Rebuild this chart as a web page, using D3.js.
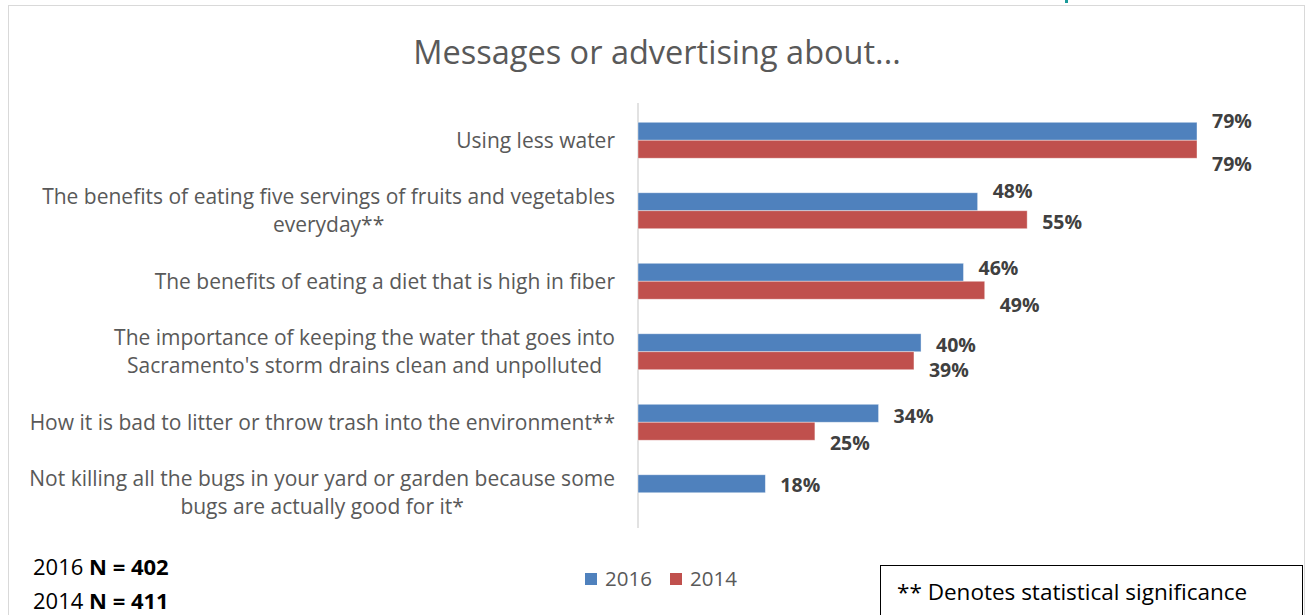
<!DOCTYPE html>
<html>
<head>
<meta charset="utf-8">
<script src="https://cdn.jsdelivr.net/npm/d3@7"></script>
<style>
  html, body { margin: 0; padding: 0; background: #fff; }
  text { font-family: "Open Sans", "Noto Sans", sans-serif; }
</style>
</head>
<body>
<div id="chart"></div>
<script>
// chart data
const categories = [
  ["Using less water"],
  ["The benefits of eating five servings of fruits and vegetables", "everyday**"],
  ["The benefits of eating a diet that is high in fiber"],
  ["The importance of keeping the water that goes into", "Sacramento's storm drains clean and unpolluted"],
  ["How it is bad to litter or throw trash into the environment**"],
  ["Not killing all the bugs in your yard or garden because some", "bugs are actually good for it*"]
];
const years = ["2016", "2014"];
const values2016 = [79, 48, 46, 40, 34, 18];
const values2014 = [79, 55, 49, 39, 25, null];
const sampleSizes = [["2016", "402"], ["2014", "411"]];
const colors = ["#4F81BD", "#C0504D"];

// manual label nudges (the original has hand-moved labels)
const labelShift2016 = [-10, -11, -4, 2, 3, 1];
const labelShift2014 = [15, 2, 15, 9, 12, 0];

const W = 1306, H = 615;
const dyText = 2; // middle baseline sits a bit high in this font

const svg = d3.select("#chart").append("svg")
    .attr("width", W)
    .attr("height", H);

// chart frame
svg.append("rect")
    .attr("x", 8.5).attr("y", 5.5)
    .attr("width", 1296).attr("height", 640)
    .attr("fill", "#fff")
    .attr("stroke", "#d9d9d9");

// little teal fragment at top
svg.append("rect")
    .attr("x", 1065).attr("y", 0).attr("width", 3).attr("height", 3)
    .attr("fill", "#1a9a9a");

svg.append("text")
    .attr("x", 657).attr("y", 53 + dyText)
    .attr("text-anchor", "middle")
    .attr("dominant-baseline", "middle")
    .attr("font-size", 32.5)
    .attr("fill", "#595959")
    .text("Messages or advertising about...");

const x = d3.scaleLinear()
    .domain([0, 79])
    .range([638, 1197]);

const y = d3.scaleBand()
    .domain(d3.range(categories.length))
    .range([105, 528])
    .paddingInner(0.49)
    .paddingOuter(0.245);

const ySub = d3.scaleBand()
    .domain(years)
    .range([0, y.bandwidth()]);

const rows = categories.map((c, i) => ({
  i: i,
  lines: c,
  vals: [
    {year: "2016", v: values2016[i], shift: labelShift2016[i]},
    {year: "2014", v: values2014[i], shift: labelShift2014[i]}
  ]
}));

// axis line
svg.append("line")
    .attr("x1", x(0)).attr("x2", x(0))
    .attr("y1", 103).attr("y2", 528)
    .attr("stroke", "#d9d9d9")
    .attr("stroke-width", 1.5);

const g = svg.selectAll("g.cat")
    .data(rows)
    .join("g")
    .attr("class", "cat")
    .attr("transform", d => `translate(0, ${y(d.i)})`);

g.selectAll("rect")
    .data(d => d.vals.filter(e => e.v !== null))
    .join("rect")
    .attr("x", x(0))
    .attr("y", d => ySub(d.year))
    .attr("width", d => x(d.v) - x(0))
    .attr("height", ySub.bandwidth())
    .attr("fill", d => colors[years.indexOf(d.year)])
    .attr("stroke", "#ffffff")
    .attr("stroke-opacity", 0.5)
    .attr("stroke-width", 0.8);

g.selectAll("text.val")
    .data(d => d.vals.filter(e => e.v !== null))
    .join("text")
    .attr("class", "val")
    .attr("x", d => x(d.v) + 15)
    .attr("y", d => ySub(d.year) + ySub.bandwidth() / 2 + d.shift + dyText)
    .attr("dominant-baseline", "middle")
    .attr("font-size", 19.5)
    .attr("font-weight", "bold")
    .attr("fill", "#404040")
    .text(d => d.v + "%");

// category labels: block right aligned, lines centred on each other
const labelRight = 615;
g.each(function(d) {
  const grp = d3.select(this);
  const cy = y.bandwidth() / 2 + dyText;
  const texts = d.lines.map((line, k) => grp.append("text")
      .attr("y", cy + (k - (d.lines.length - 1) / 2) * 28)
      .attr("dominant-baseline", "middle")
      .attr("text-anchor", "middle")
      .attr("font-size", 21)
      .attr("fill", "#595959")
      .text(line));
  const widest = d3.max(texts, t => t.node().getComputedTextLength());
  texts.forEach(t => t.attr("x", labelRight - widest / 2));
});

// legend
const legend = svg.append("g").attr("transform", "translate(585, 579)");
years.forEach((yr, k) => {
  const lg = legend.append("g").attr("transform", `translate(${k * 85}, 0)`);
  lg.append("rect")
      .attr("x", 0).attr("y", -6)
      .attr("width", 12).attr("height", 12)
      .attr("fill", colors[k]);
  lg.append("text")
      .attr("x", 20).attr("y", dyText)
      .attr("dominant-baseline", "middle")
      .attr("font-size", 20.5)
      .attr("fill", "#595959")
      .text(yr);
});

// sample sizes
sampleSizes.forEach((s, k) => {
  const t = svg.append("text")
      .attr("x", 33).attr("y", 567 + k * 34 + dyText)
      .attr("dominant-baseline", "middle")
      .attr("font-size", 22)
      .attr("fill", "#000");
  t.append("tspan").text(s[0] + " ");
  t.append("tspan").attr("font-weight", "bold").text("N = " + s[1]);
});

// note box
svg.append("rect")
    .attr("x", 880.5).attr("y", 565.5)
    .attr("width", 422).attr("height", 70)
    .attr("fill", "#fff")
    .attr("stroke", "#000")
    .attr("stroke-width", 1);
svg.append("text")
    .attr("x", 897).attr("y", 592 + dyText)
    .attr("dominant-baseline", "middle")
    .attr("font-size", 22.5)
    .attr("fill", "#000")
    .text("** Denotes statistical significance");
</script>
</body>
</html>
